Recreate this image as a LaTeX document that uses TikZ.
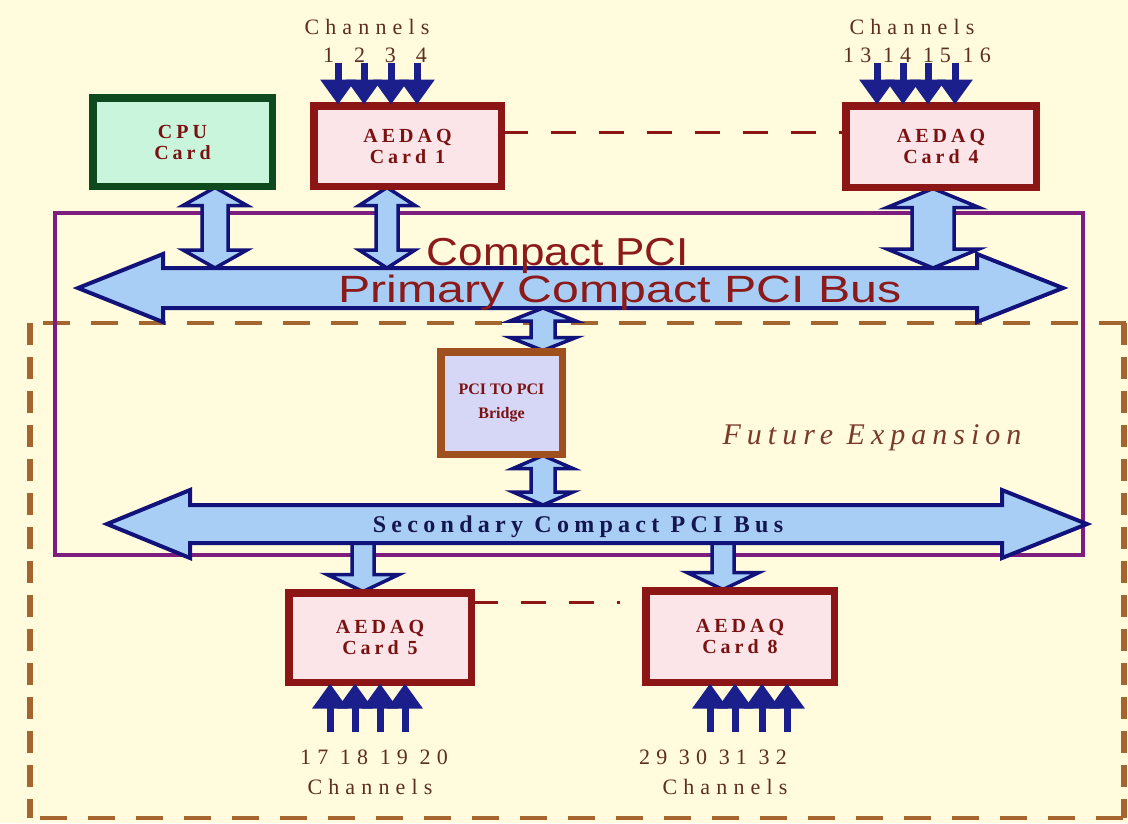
\documentclass[tikz,border=0pt]{standalone}
\usepackage{fontspec}
\setmainfont{Liberation Serif}
\newfontfamily\arialf{Liberation Sans}
\newfontfamily\cardfont[LetterSpace=20]{Liberation Serif}
\newfontfamily\chanfont[LetterSpace=28]{Liberation Serif}
\newfontfamily\futfont[LetterSpace=20]{Liberation Serif}
\newfontfamily\secfont[LetterSpace=22]{Liberation Serif}
\usetikzlibrary{arrows.meta,calc}
\definecolor{bgc}{HTML}{FFFBDC}
\definecolor{navy}{HTML}{12137A}
\definecolor{chanblue}{HTML}{1A1F8C}
\definecolor{busfill}{HTML}{A9CEF6}
\definecolor{purp}{HTML}{7D1E7E}
\definecolor{dashbrown}{HTML}{A4652E}
\definecolor{cardborder}{HTML}{8C1515}
\definecolor{cardfill}{HTML}{FCE5E9}
\definecolor{cpufill}{HTML}{C9F5DC}
\definecolor{cpuborder}{HTML}{0E4A1E}
\definecolor{bridgefill}{HTML}{D6D6F7}
\definecolor{bridgeborder}{HTML}{A0501E}
\definecolor{textred}{HTML}{8B1A1A}
\definecolor{cardtxt}{HTML}{7A1212}
\definecolor{chantxt}{HTML}{5E2E22}
\definecolor{sectxt}{HTML}{141650}
\definecolor{futtxt}{HTML}{7A3A2A}
% fat vertical double arrow: #1 top point, #2 bottom point, #3 shaft half, #4 head half, #5 head length
\newcommand\fatv[5]{%
  \draw[fatarrow] let \p1=(#1), \p2=(#2) in
   (\x1,\y1) -- (\x1+#4pt,\y1-#5pt) -- (\x1+#3pt,\y1-#5pt) -- (\x1+#3pt,\y2+#5pt)
   -- (\x1+#4pt,\y2+#5pt) -- (\x1,\y2) -- (\x1-#4pt,\y2+#5pt) -- (\x1-#3pt,\y2+#5pt)
   -- (\x1-#3pt,\y1-#5pt) -- (\x1-#4pt,\y1-#5pt) -- cycle;}
% fat single down arrow
\newcommand\fatdown[5]{%
  \draw[fatarrow] let \p1=(#1), \p2=(#2) in
   (\x1-#3pt,\y1) -- (\x1+#3pt,\y1) -- (\x1+#3pt,\y2+#5pt) -- (\x1+#4pt,\y2+#5pt)
   -- (\x1,\y2) -- (\x1-#4pt,\y2+#5pt) -- (\x1-#3pt,\y2+#5pt) -- cycle;}
\begin{document}
\begin{tikzpicture}[x=1pt,y=-1pt,
  box/.style={draw, line width=5, inner sep=0, align=center, text=cardtxt,
    font=\cardfont\bfseries\fontsize{20}{21}\selectfont},
  cardbox/.style={box, draw=cardborder, fill=cardfill},
  bus/.style={draw=navy, fill=busfill, line width=4, line join=miter},
  fatarrow/.style={draw=navy, fill=busfill, line width=3.5, line join=miter},
  chan/.style={draw=chanblue, line width=7, -{Triangle[width=34pt,length=25pt]}},
  chantext/.style={text=chantxt, font=\chanfont\fontsize{22}{24}\selectfont, inner sep=0},
  cardlink/.style={draw=cardborder, line width=3, dash pattern=on 25pt off 23pt},
  hdash/.style={draw=dashbrown, line width=4, dash pattern=on 27pt off 21pt},
  vdash/.style={draw=dashbrown, line width=6, dash pattern=on 22pt off 12pt},
]
\fill[bgc] (0,0) rectangle (1128,823);
\useasboundingbox (0,0) rectangle (1128,823);

% future expansion dashed frame
\draw[hdash] (43,323) -- (1128,323);
\draw[hdash] (40,818) -- (1128,818);
\draw[vdash] (30,323) -- (30,818);
\draw[vdash] (1124,323) -- (1124,818);

% compact PCI frame
\draw[purp, line width=4] (55,213) rectangle (1083,555);

% bus edge reference coordinates
\coordinate (pbT) at (0,268);
\coordinate (pbB) at (0,308);
\coordinate (sbT) at (0,505);
\coordinate (sbB) at (0,541);

% cards
\node[box, fill=cpufill, draw=cpuborder, minimum width=177, minimum height=86] (cpu) at (182.5,142) {CPU\\Card};
\node[cardbox, minimum width=185, minimum height=78] (card1) at (407.5,146) {AEDAQ\\Card 1};
\node[cardbox, minimum width=188, minimum height=79] (card4) at (941,146.5) {AEDAQ\\Card 4};
\node[cardbox, minimum width=180, minimum height=87] (card5) at (380,637.5) {AEDAQ\\Card 5};
\node[cardbox, minimum width=186, minimum height=89] (card8) at (740,636.5) {AEDAQ\\Card 8};
\node[box, fill=bridgefill, draw=bridgeborder, minimum width=119, minimum height=100,
  font=\bfseries\fontsize{16}{24}\selectfont] (bridge) at (501.5,403) {PCI TO PCI\\Bridge};

% down arrows from secondary bus to cards (under the bus)
\coordinate (c5A) at ([xshift=-17pt]card5.north);
\coordinate (c8A) at ([xshift=-17pt]card8.north);
\fatdown{c5A |- sbB}{c5A}{11}{36}{17}
\fatdown{c8A |- sbB}{c8A}{11}{36}{17}

% primary bus
\draw[bus] (78,288) -- (163,254) -- (163,268) -- (977,268) -- (977,254) -- (1063,288)
  -- (977,322) -- (977,308) -- (163,308) -- (163,322) -- cycle;
% secondary bus
\draw[bus] (107,524) -- (190,490) -- (190,505) -- (1002,505) -- (1002,490) -- (1087,524)
  -- (1002,558) -- (1002,543) -- (190,543) -- (190,558) -- cycle;

\node[text=textred, font=\arialf\fontsize{39}{44}\selectfont, anchor=base, xscale=1.13] (cpcilbl) at (558,265) {Compact PCI};
\node[text=textred, font=\arialf\fontsize{38}{44}\selectfont, anchor=base, xscale=1.27] (pbus) at (620,302) {Primary Compact PCI Bus};
\node[text=sectxt, font=\secfont\bfseries\fontsize{24}{26}\selectfont, anchor=base] (sbus) at (578,532) {Secondary Compact PCI Bus};
\node[text=futtxt, font=\futfont\itshape\fontsize{30}{32}\selectfont, anchor=base] (future) at (872,444) {Future Expansion};

% card to primary bus arrows
\coordinate (cpuA) at ([xshift=32.5pt]cpu.south);
\coordinate (c1A) at ([xshift=-20.5pt]card1.south);
\coordinate (c4A) at ([xshift=-8pt]card4.south);
\fatv{cpuA}{cpuA |- pbT}{13}{32}{18}
\fatv{c1A}{c1A |- pbT}{11}{28}{18}
\fatv{c4A}{c4A |- pbT}{21}{46}{19}
% bridge arrows
\coordinate (brN) at ([xshift=41.5pt]bridge.north);
\coordinate (brS) at ([xshift=41.5pt]bridge.south);
\fatv{brN |- pbB}{brN}{12}{33}{13}
\fatv{brS}{brS |- sbT}{12}{30}{13}

% redraw card borders over arrow tips
\foreach \n in {card1,card4,card5,card8}{\draw[cardborder, line width=5] (\n.south west) rectangle (\n.north east);}
\draw[cpuborder, line width=5] (cpu.south west) rectangle (cpu.north east);
\draw[bridgeborder, line width=5] (bridge.south west) rectangle (bridge.north east);

% dashed links between cards
\coordinate (l1) at (0,132);
\draw[cardlink] (card1.east |- l1) -- (card4.west |- l1);
\coordinate (l5) at (0,602);
\coordinate (l5end) at (620,602);
\draw[cardlink] (card5.east |- l5) -- (l5end);

% channel arrows
\foreach \x [count=\i] in {338,364,391,417}{\coordinate (t1\i) at (\x,63); \draw[chan] (t1\i) -- (t1\i |- card1.north);}
\foreach \x [count=\i] in {877,903,928,955}{\coordinate (t4\i) at (\x,63); \draw[chan] (t4\i) -- (t4\i |- card4.north);}
\foreach \x [count=\i] in {330,355,380,405}{\coordinate (b5\i) at (\x,732); \draw[chan] (b5\i) -- (b5\i |- card5.south);}
\foreach \x [count=\i] in {710,735,762,787}{\coordinate (b8\i) at (\x,732); \draw[chan] (b8\i) -- (b8\i |- card8.south);}

% channel labels
\node[chantext] (ch1lbl) at (367,27) {Channels};
\node[chantext] (ch1num) at (375,55) {1\hspace{20pt}2\hspace{20pt}3\hspace{20pt}4};
\node[chantext] (ch4lbl) at (912,27) {Channels};
\node[chantext] (ch4num) at (917,55) {13 14 15 16};
\node[chantext] (ch5num) at (374,757) {17 18 19 20};
\node[chantext] (ch5lbl) at (370,787) {Channels};
\node[chantext] (ch8num) at (713,757) {29 30 31 32};
\node[chantext] (ch8lbl) at (725,787) {Channels};
\end{tikzpicture}
\end{document}
